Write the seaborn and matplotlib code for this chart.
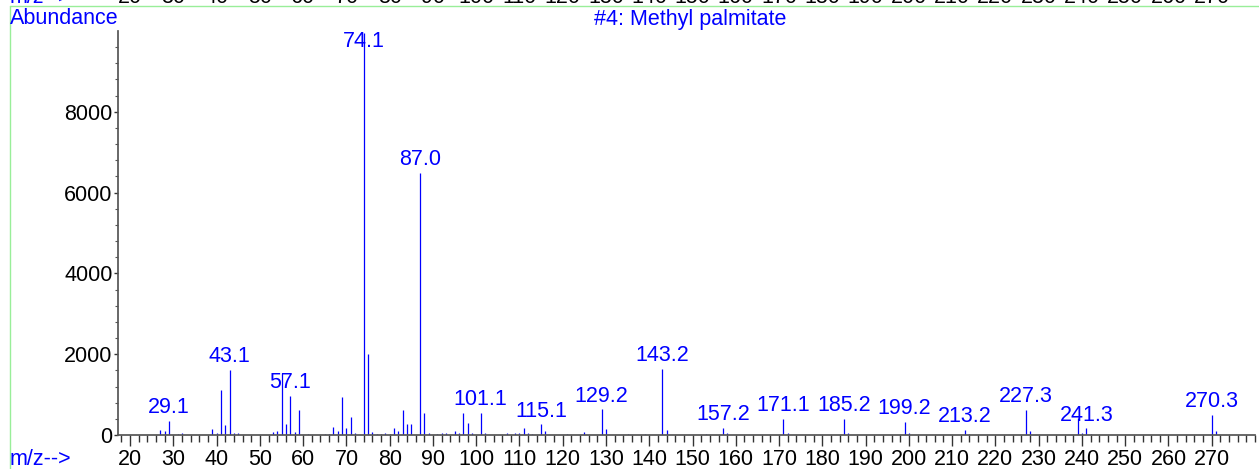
import seaborn as sns
import matplotlib.pyplot as plt
import matplotlib.transforms as mtransforms
from matplotlib.ticker import FixedLocator
from matplotlib.lines import Line2D

# peak list (m/z, abundance)
mz = [27, 28, 29, 31, 32, 39, 40, 41, 42, 43, 44, 45,
      53, 54, 55, 56, 57, 58, 59, 61, 65, 66, 67, 68, 69, 70, 71, 72,
      74, 75, 76, 77, 78, 79, 80, 81, 82, 83, 84, 85, 87, 88, 89,
      91, 92, 93, 95, 96, 97, 98, 99, 101, 102, 107, 109, 110, 111, 112, 113,
      115, 116, 121, 125, 129, 130, 135, 139, 143, 144, 153, 157, 158,
      171, 172, 185, 186, 199, 200, 213, 214, 227, 228, 239, 240, 241, 242,
      270, 271]
abundance = [120, 100, 350, 30, 40, 140, 40, 1110, 240, 1610, 60, 60,
             70, 100, 1530, 265, 965, 70, 620, 20, 20, 30, 190, 100, 935, 180, 455, 40,
             9950, 2005, 80, 30, 20, 50, 30, 165, 100, 620, 265, 265, 6480, 555, 50,
             30, 40, 60, 110, 60, 535, 290, 60, 555, 50, 40, 60, 50, 180, 60, 30,
             265, 100, 30, 70, 635, 150, 30, 30, 1635, 130, 20, 180, 40,
             395, 60, 395, 50, 315, 40, 125, 30, 620, 100, 410, 60, 165, 30,
             495, 100]

label_mz = [29, 43, 57, 74, 87, 101, 115, 129, 143, 157, 171, 185, 199, 213, 227, 241, 270]
label_text = ["29.1", "43.1", "57.1", "74.1", "87.0", "101.1", "115.1", "129.2", "143.2",
              "157.2", "171.1", "185.2", "199.2", "213.2", "227.3", "241.3", "270.3"]

x_ticks = [20, 30, 40, 50, 60, 70, 80, 90, 100, 110, 120, 130, 140, 150, 160, 170,
           180, 190, 200, 210, 220, 230, 240, 250, 260, 270]
y_ticks = [0, 2000, 4000, 6000, 8000]

sns.set_theme(style="white")
plt.rcParams['font.family'] = ['Liberation Sans', 'DejaVu Sans']

blue = "#0000FF"
fs = 15.5
fig = plt.figure(figsize=(12.59, 4.69), dpi=100)
ax = fig.add_axes([118 / 1259, 1 - 435 / 469, (1255 - 118) / 1259, (435 - 31) / 469])

# stick spectrum
ax.vlines(mz, 0, abundance, color=blue, linewidth=0.9)

# peak labels just above each labelled peak (74.1 kept inside the frame)
height = dict(zip(mz, abundance))
for m, t in zip(label_mz, label_text):
    y = min(height[m], 9400)
    ax.annotate(t, xy=(m, y), xytext=(0, 2), textcoords="offset points",
                ha="center", va="bottom", color=blue, fontsize=fs)

ax.set_xlim(17.2, 280)
ax.set_ylim(0, 10000)

for side in ["top", "right"]:
    ax.spines[side].set_visible(False)
ax.spines["left"].set_color("#555555")
ax.spines["bottom"].set_color("#555555")

ax.set_xticks(x_ticks)
ax.xaxis.set_minor_locator(FixedLocator(list(range(18, 281, 2))))
ax.set_yticks(y_ticks)
ax.yaxis.set_minor_locator(FixedLocator(list(range(400, 10000, 400))))
ax.tick_params(axis="x", which="major", direction="out", length=8, width=1,
               color="#333333", labelsize=fs, labelcolor="black", pad=2, bottom=True)
ax.tick_params(axis="x", which="minor", direction="out", length=5, width=1,
               color="#333333", bottom=True)
ax.tick_params(axis="y", which="major", direction="out", length=3, width=1,
               color="#333333", labelsize=fs, labelcolor="black", pad=1, left=True)
ax.tick_params(axis="y", which="minor", direction="out", length=2, width=0.8,
               color="#555555", left=True)
ax.grid(False)

# header / footer texts
fig.text(10 / 1259, 1 - 19 / 469, "Abundance", color=blue, fontsize=fs, va="center", ha="left")
fig.text(690 / 1259, 1 - 19 / 469, "#4: Methyl palmitate", color=blue, fontsize=fs,
         va="center", ha="center")
fig.text(10 / 1259, 1 - 459 / 469, "m/z-->", color=blue, fontsize=fs, va="center", ha="left")

# clipped strip from the panel above
fig.text(10 / 1259, 1 - 3 / 469, "m/z-->", color=blue, fontsize=fs, va="baseline", ha="left")
blend = mtransforms.blended_transform_factory(ax.transData, fig.transFigure)
for t in x_ticks:
    fig.text(t, 1 - 3 / 469, str(t), transform=blend, color="black", fontsize=fs,
             va="baseline", ha="center")

# light green frame
green = "#99EE99"
fig.add_artist(Line2D([9.5 / 1259, 9.5 / 1259], [0, 1 - 6 / 469], color=green, lw=1,
                      transform=fig.transFigure))
fig.add_artist(Line2D([9.5 / 1259, 1], [1 - 6 / 469, 1 - 6 / 469], color=green, lw=1,
                      transform=fig.transFigure))

fig.savefig("out.png", dpi=100)
